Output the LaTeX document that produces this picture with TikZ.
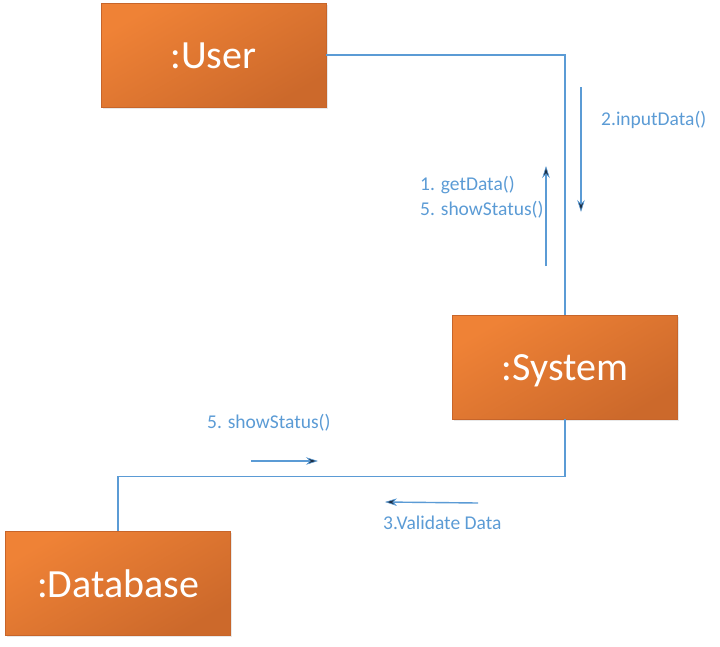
\documentclass[tikz,border=0pt]{standalone}
\usepackage{fontspec}
\setmainfont{Carlito}
\usetikzlibrary{arrows.meta,shadows}
\definecolor{orA}{HTML}{EF8236}
\definecolor{orB}{HTML}{CC692B}
\definecolor{orEdge}{HTML}{C7652A}
\definecolor{lnblue}{HTML}{5B9BD5}
\definecolor{tipdark}{HTML}{1C2E44}
\tikzset{
  objbox/.style={rectangle, minimum width=225pt, minimum height=104pt, inner sep=0pt,
    top color=orA, bottom color=orB, shading angle=30, draw=orEdge, line width=0.4pt,
    drop shadow={opacity=0.18, shadow xshift=1.5pt, shadow yshift=-1.5pt},
    text=white, font=\fontsize{40}{46}\selectfont, text height=27pt, text depth=0pt},
  link/.style={draw=lnblue, line width=1.4pt},
  msg/.style={draw=lnblue, line width=1.4pt, -{Stealth[length=12pt, width=7.5pt, fill=tipdark, color=lnblue, line width=0.6pt]}},
  msglabel/.style={text=lnblue, font=\fontsize{19.5}{25}\selectfont, inner sep=0pt, align=left}
}
\begin{document}
\begin{tikzpicture}[x=1pt,y=-1pt]
\useasboundingbox (0,0) rectangle (720,646);
\node[objbox] (user) at (213.5,55) {:User};
\node[objbox] (system) at (565,367) {:System};
\node[objbox] (db) at (118,583.5) {:Database};
\draw[link] (user.east) -| (system.north);
\draw[link] (system.south) -- ++(0,57) -| (db.north);
% messages
\coordinate (m2s) at (581,87);
\coordinate (m2e) at (581,212);
\draw[msg] (m2s) -- (m2e);
\node[msglabel, anchor=west] (l2) at (601,120) {2.inputData()};
\coordinate (m1s) at (546,266);
\coordinate (m1e) at (546,166);
\draw[msg] (m1s) -- (m1e);
\node[msglabel, anchor=west] (l1) at (420,197) {1. getData()\\5. showStatus()};
\coordinate (m5s) at (251,461);
\coordinate (m5e) at (318,461);
\draw[msg] (m5s) -- (m5e);
\node[msglabel, anchor=west] (l5) at (207,423) {5. showStatus()};
\coordinate (m3s) at (478,503);
\coordinate (m3e) at (385,502);
\draw[msg] (m3s) -- (m3e);
\node[msglabel, anchor=west] (l3) at (383,523) {3.Validate Data};
\end{tikzpicture}
\end{document}
